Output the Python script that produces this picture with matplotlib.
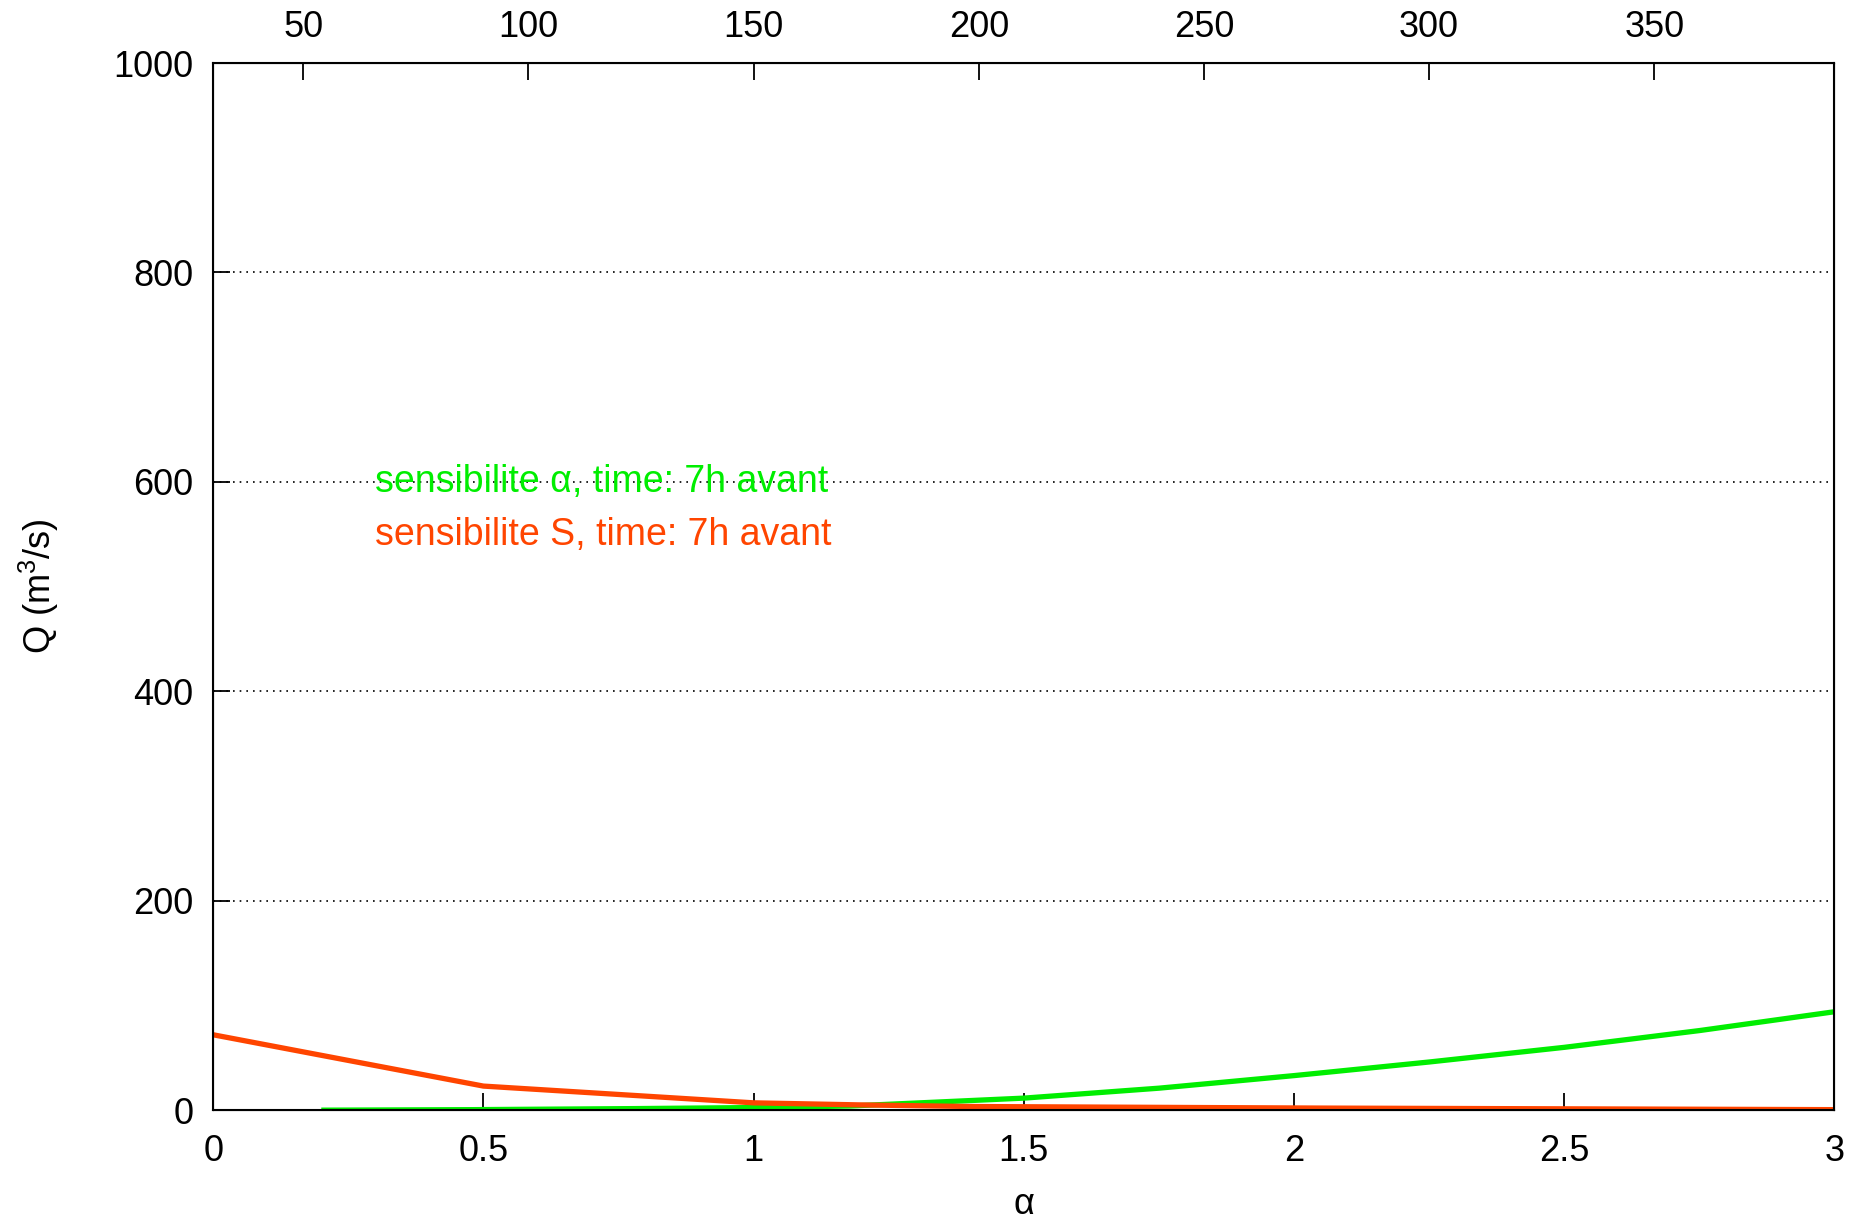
import matplotlib.pyplot as plt

plt.rcParams["font.family"] = ["Liberation Sans", "DejaVu Sans"]
plt.rcParams["mathtext.fontset"] = "custom"
plt.rcParams["mathtext.rm"] = "Liberation Sans"

# green: sensitivity to alpha
alpha_green = [0.2, 0.48, 0.78, 1.0, 1.18, 1.5, 1.75, 2.0, 2.25, 2.5, 2.75, 3.0]
q_green = [0.0, 0.5, 1.5, 2.5, 4.0, 11.5, 21.0, 33.0, 46.0, 60.0, 76.0, 94.0]

# red: sensitivity to S
alpha_red = [0.0, 0.5, 1.0, 1.2, 1.4, 2.05, 3.0]
q_red = [72.0, 23.0, 7.0, 5.0, 3.5, 2.0, 0.5]

y_ticks = [0, 200, 400, 600, 800, 1000]
x_ticks = [0, 0.5, 1, 1.5, 2, 2.5, 3]
x_tick_labels = ["0", "0.5", "1", "1.5", "2", "2.5", "3"]
top_ticks = [50, 100, 150, 200, 250, 300, 350]

green = "#00ee00"
red = "#ff4500"

fig = plt.figure(figsize=(18.7, 12.24), dpi=100)
ax = fig.add_axes([0.114, 0.093, 0.867, 0.8555])

ax.plot(alpha_green, q_green, color=green, linewidth=3.8, solid_capstyle="butt")
ax.plot(alpha_red, q_red, color=red, linewidth=3.8, solid_capstyle="butt")

ax.set_xlim(0, 3)
ax.set_ylim(0, 1000)
ax.set_xticks(x_ticks)
ax.set_xticklabels(x_tick_labels)
ax.set_yticks(y_ticks)
for y in y_ticks[1:-1]:
    ax.axhline(y, color="black", linestyle=(0, (1, 3)), linewidth=1.2, zorder=0)

ax.tick_params(direction="in", length=12, width=1.3, labelsize=26)
ax.tick_params(axis="x", pad=17)
ax.tick_params(axis="y", right=False, pad=14)
ax.set_xlabel("α", fontsize=26, labelpad=13)
ax.set_ylabel(r"Q (m$^3$/s)", fontsize=26, labelpad=38)
for s in ax.spines.values():
    s.set_linewidth(1.5)

ax_top = ax.twiny()
ax_top.set_xlim(30, 390)
ax_top.set_xticks(top_ticks)
ax_top.tick_params(direction="in", length=12, width=1.3, labelsize=26, pad=13)

ax.text(0.3, 600, "sensibilite α, time: 7h avant", color=green,
        fontsize=27, va="center", ha="left")
ax.text(0.3, 549, "sensibilite S, time: 7h avant", color=red,
        fontsize=27, va="center", ha="left")

fig.savefig("out.png", dpi=100)
